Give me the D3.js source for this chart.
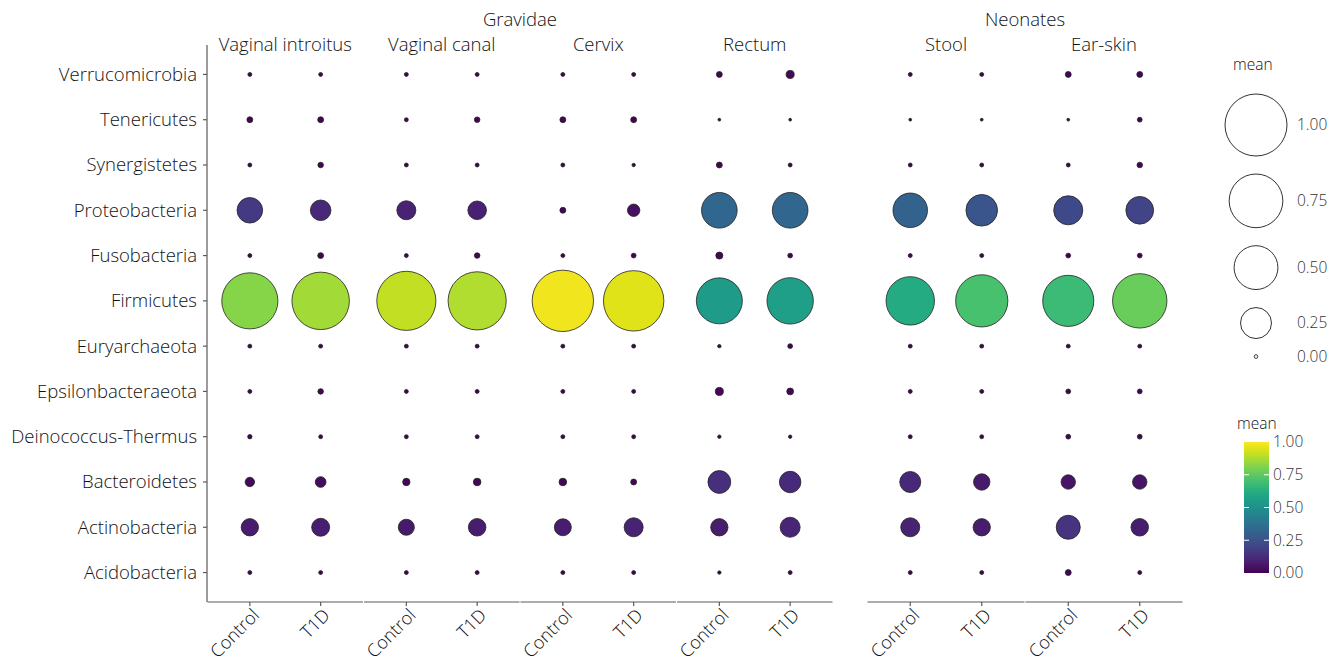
<!DOCTYPE html>
<html lang="en">
<head>
    <meta charset="UTF-8">
    <title>phylum bubble plot</title>
    <script src="https://d3js.org/d3.v7.min.js"></script>
    <style>
        body { margin: 0; background: #fff; }
        text { font-family: "Open Sans", "Noto Sans", sans-serif; font-weight: 300; fill: #111; }
        .axis-line { stroke: #5a5a5a; stroke-width: 1.2; }
    </style>
</head>
<body>
<svg id="chart" width="1339" height="662"></svg>

<script>
    // categories
    let phyla = ["Acidobacteria", "Actinobacteria", "Bacteroidetes", "Deinococcus-Thermus",
        "Epsilonbacteraeota", "Euryarchaeota", "Firmicutes", "Fusobacteria",
        "Proteobacteria", "Synergistetes", "Tenericutes", "Verrucomicrobia"]
    let statuses = ["Control", "T1D"]
    let gravidaeSites = ["Vaginal introitus", "Vaginal canal", "Cervix", "Rectum"]
    let neonateSites = ["Stool", "Ear-skin"]

    // mean per phylum, order: each site (gravidae then neonates) x Control, T1D
    let acidobacteria      = [0.004, 0.004, 0.004, 0.004, 0.004, 0.004, 0.003, 0.004, 0.004, 0.004, 0.009, 0.004]
    let actinobacteria     = [0.078, 0.084, 0.067, 0.080, 0.075, 0.094, 0.078, 0.104, 0.094, 0.078, 0.150, 0.080]
    let bacteroidetes      = [0.023, 0.030, 0.014, 0.015, 0.015, 0.009, 0.135, 0.120, 0.115, 0.070, 0.054, 0.054]
    let deinococcus        = [0.005, 0.004, 0.004, 0.004, 0.004, 0.004, 0.003, 0.003, 0.004, 0.004, 0.006, 0.006]
    let epsilonbacteraeota = [0.004, 0.008, 0.004, 0.004, 0.004, 0.004, 0.017, 0.012, 0.004, 0.004, 0.006, 0.006]
    let euryarchaeota      = [0.004, 0.004, 0.004, 0.004, 0.004, 0.004, 0.003, 0.006, 0.004, 0.004, 0.004, 0.004]
    let firmicutes         = [0.82, 0.86, 0.91, 0.88, 0.98, 0.95, 0.55, 0.56, 0.61, 0.71, 0.68, 0.77]
    let fusobacteria       = [0.004, 0.009, 0.004, 0.008, 0.004, 0.006, 0.013, 0.006, 0.004, 0.004, 0.006, 0.006]
    let proteobacteria     = [0.17, 0.11, 0.094, 0.09, 0.009, 0.04, 0.33, 0.33, 0.31, 0.26, 0.22, 0.20]
    let synergistetes      = [0.004, 0.008, 0.004, 0.004, 0.004, 0.003, 0.009, 0.004, 0.004, 0.004, 0.004, 0.008]
    let tenericutes        = [0.009, 0.009, 0.004, 0.008, 0.009, 0.009, 0.002, 0.002, 0.002, 0.002, 0.002, 0.006]
    let verrucomicrobia    = [0.004, 0.004, 0.004, 0.004, 0.004, 0.004, 0.009, 0.017, 0.004, 0.004, 0.009, 0.009]

    let sizeLegendValues = [1.00, 0.75, 0.50, 0.25, 0.00]
    let colorLegendTicks = [0.00, 0.25, 0.50, 0.75, 1.00]

    let rows = [acidobacteria, actinobacteria, bacteroidetes, deinococcus, epsilonbacteraeota,
        euryarchaeota, firmicutes, fusobacteria, proteobacteria, synergistetes, tenericutes, verrucomicrobia]
    let allSites = gravidaeSites.concat(neonateSites)

    // long table
    let data = []
    rows.forEach(function (vals, i) {
        allSites.forEach(function (site, j) {
            statuses.forEach(function (st, k) {
                data.push({phylum: phyla[i], site: site, status: st, mean: vals[j * 2 + k]})
            })
        })
    })

    let svg = d3.select("#chart")
    let plotTop = 45, plotBottom = 602
    let panels = [
        {name: "Gravidae", sites: gravidaeSites, x0: 207, x1: 833},
        {name: "Neonates", sites: neonateSites, x0: 867, x1: 1183}
    ]

    let y = d3.scalePoint().domain(phyla).range([plotBottom, plotTop]).padding(0.65)
    let r = d3.scaleSqrt().domain([0, 1]).range([0, 31])
    let color = d3.scaleSequential(d3.interpolateViridis).domain([0, 1])

    // y axis
    svg.append("line").attr("class", "axis-line")
        .attr("x1", 207).attr("x2", 207).attr("y1", plotTop).attr("y2", plotBottom)
    let yAxis = svg.append("g")
    yAxis.selectAll("line").data(phyla).join("line").attr("class", "axis-line")
        .attr("x1", 203).attr("x2", 207).attr("y1", d => y(d)).attr("y2", d => y(d))
    yAxis.selectAll("text").data(phyla).join("text")
        .attr("x", 197).attr("y", d => y(d)).attr("dy", "0.35em")
        .attr("text-anchor", "end").style("font-size", "18.5px").text(d => d)

    panels.forEach(function (p) {
        let fx = d3.scaleBand().domain(p.sites).range([p.x0, p.x1])
        svg.append("text").attr("x", (p.x0 + p.x1) / 2).attr("y", 26)
            .attr("text-anchor", "middle").style("font-size", "18.5px").text(p.name)

        p.sites.forEach(function (site) {
            let x = d3.scalePoint().domain(statuses)
                .range([fx(site), fx(site) + fx.bandwidth()]).padding(0.605)
            let g = svg.append("g")

            g.append("text").attr("x", fx(site) + fx.bandwidth() / 2).attr("y", 51)
                .attr("text-anchor", "middle").style("font-size", "18.5px").text(site)

            // bottom axis per facet
            g.append("line").attr("class", "axis-line")
                .attr("x1", fx(site) + 0.5).attr("x2", fx(site) + fx.bandwidth() - 0.5)
                .attr("y1", plotBottom).attr("y2", plotBottom)
            g.selectAll(".tick").data(statuses).join("line").attr("class", "axis-line")
                .attr("x1", d => x(d)).attr("x2", d => x(d)).attr("y1", plotBottom).attr("y2", plotBottom + 4)
            g.selectAll(".xlab").data(statuses).join("text")
                .attr("transform", d => "translate(" + (x(d) + 6) + "," + (plotBottom + 10) + ") rotate(-45)")
                .attr("text-anchor", "end").attr("dy", "0.35em")
                .style("font-size", "18px").text(d => d)

            g.selectAll("circle").data(data.filter(d => d.site === site)).join("circle")
                .attr("cx", d => x(d.status)).attr("cy", d => y(d.phylum))
                .attr("r", d => r(d.mean))
                .attr("fill", d => color(d.mean))
                .attr("stroke", "#222").attr("stroke-width", 0.8)
        })
    })

    // size legend
    let sl = svg.append("g")
    sl.append("text").attr("x", 1233).attr("y", 70).style("font-size", "15.5px").text("mean")
    let cy = 125
    sizeLegendValues.forEach(function (v, i) {
        if (i > 0) cy += r(sizeLegendValues[i - 1]) + 18 + r(v)
        sl.append("circle").attr("cx", 1256).attr("cy", cy).attr("r", Math.max(1.8, r(v)))
            .attr("fill", "none").attr("stroke", "#333").attr("stroke-width", 1)
        sl.append("text").attr("x", 1297).attr("y", cy).attr("dy", "0.35em")
            .style("font-size", "15.5px").style("fill", "#333").text(v.toFixed(2))
    })

    // color legend
    let defs = svg.append("defs")
    let grad = defs.append("linearGradient").attr("id", "viridis")
        .attr("x1", 0).attr("x2", 0).attr("y1", 1).attr("y2", 0)
    d3.range(0, 1.001, 0.05).forEach(function (t) {
        grad.append("stop").attr("offset", t).attr("stop-color", color(t))
    })
    let cbY = d3.scaleLinear().domain([0, 1]).range([573, 442])
    let cl = svg.append("g")
    cl.append("text").attr("x", 1237).attr("y", 429).style("font-size", "15.5px").text("mean")
    cl.append("rect").attr("x", 1244).attr("y", 442).attr("width", 25).attr("height", 131)
        .attr("fill", "url(#viridis)")
    cl.selectAll(".tk").data(colorLegendTicks.slice(1, 4)).join("g").each(function (t) {
        d3.select(this).append("line").attr("x1", 1244).attr("x2", 1249)
            .attr("y1", cbY(t)).attr("y2", cbY(t)).attr("stroke", "#fff").attr("stroke-width", 1)
        d3.select(this).append("line").attr("x1", 1264).attr("x2", 1269)
            .attr("y1", cbY(t)).attr("y2", cbY(t)).attr("stroke", "#fff").attr("stroke-width", 1)
    })
    cl.selectAll("text.lab").data(colorLegendTicks).join("text").attr("class", "lab")
        .attr("x", 1273).attr("y", d => cbY(d)).attr("dy", "0.35em")
        .style("font-size", "15.5px").style("fill", "#333").text(d => d.toFixed(2))
</script>

</body>
</html>
